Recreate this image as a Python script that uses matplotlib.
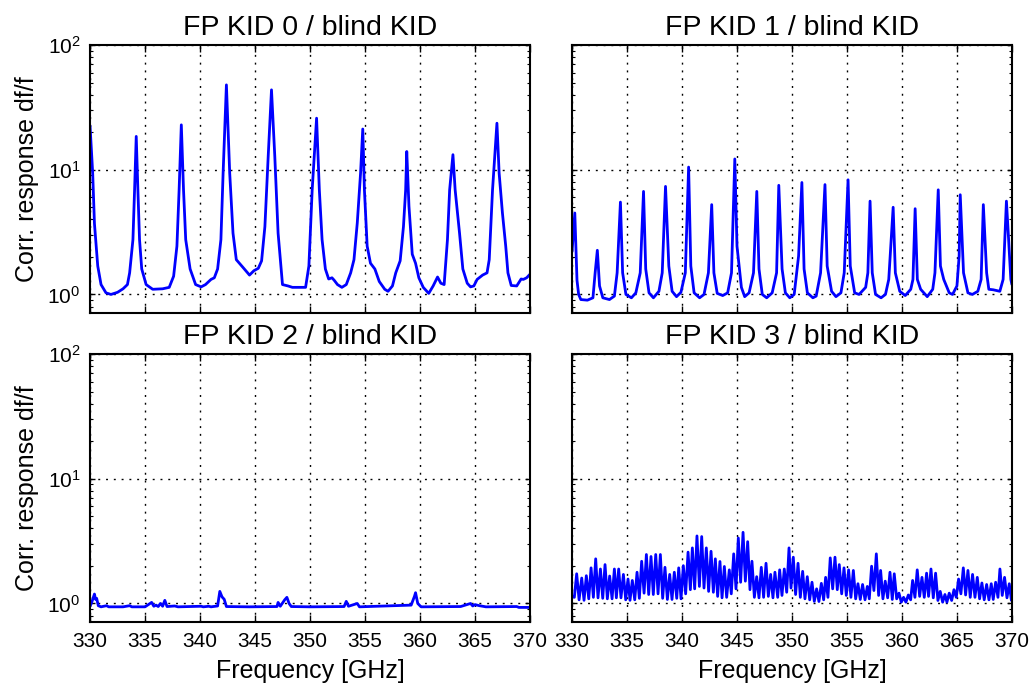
import matplotlib
matplotlib.use("Agg")
import matplotlib.pyplot as plt

plt.rcParams["font.family"] = ["Liberation Sans", "DejaVu Sans"]

# ---------------------------------------------------------------------------
# Correlated response of each focal-plane KID divided by the blind KID
# ---------------------------------------------------------------------------
titles = ["FP KID 0 / blind KID", "FP KID 1 / blind KID",
          "FP KID 2 / blind KID", "FP KID 3 / blind KID"]

kid0_freq = [330.0, 330.24, 330.4, 330.7, 331.0, 331.45, 331.9, 332.5, 333.0, 333.4,
             333.6, 333.9, 334.05, 334.2, 334.35, 334.5, 334.7, 335.1, 335.7, 336.6,
             337.2, 337.6, 337.9, 338.1, 338.3, 338.5, 338.7, 339.1, 339.6, 340.1,
             340.5, 341.0, 341.3, 341.6, 341.9, 342.1, 342.4, 342.7, 343.0, 343.3,
             343.9, 344.5, 344.9, 345.3, 345.6, 345.9, 346.2, 346.5, 346.8, 347.1,
             347.5, 348.0, 348.4, 349.0, 349.6, 349.9, 350.2, 350.6, 350.85, 351.1,
             351.4, 351.7, 352.0, 352.2, 352.5, 352.9, 353.3, 353.7, 354.0, 354.3,
             354.6, 354.8, 354.95, 355.2, 355.5, 355.9, 356.3, 356.8, 357.1, 357.5,
             357.8, 358.2, 358.5, 358.7, 358.8, 359.0, 359.3, 359.6, 359.9, 360.3,
             360.8, 361.2, 361.6, 361.9, 362.2, 362.5, 362.7, 363.0, 363.2, 363.6,
             363.9, 364.3, 364.6, 364.9, 365.2, 365.7, 366.1, 366.3, 366.6, 367.0,
             367.2, 367.5, 367.8, 368.0, 368.3, 368.8, 369.2, 369.4, 369.7, 370.0]
kid0_resp = [22.5, 9.4, 3.7, 1.69, 1.2, 1.03, 1.0, 1.04, 1.11, 1.2,
             1.49, 2.75, 6.9, 18.5, 6.9, 2.75, 1.6, 1.2, 1.10, 1.11,
             1.14, 1.4, 2.44, 6.9, 22.9, 6.9, 2.75, 1.6, 1.2, 1.15,
             1.2, 1.32, 1.36, 1.6, 2.75, 9.4, 47.9, 9.4, 3.1, 1.9,
             1.65, 1.43, 1.55, 1.62, 1.86, 3.5, 12.8, 43.7, 12.8, 3.1,
             1.2, 1.17, 1.14, 1.14, 1.14, 1.69, 6.9, 25.9, 6.9, 2.75,
             1.6, 1.33, 1.36, 1.3, 1.2, 1.14, 1.2, 1.49, 1.9, 3.74,
             9.4, 21.2, 6.9, 2.44, 1.78, 1.6, 1.27, 1.10, 1.06, 1.17,
             1.49, 1.86, 3.5, 6.9, 14.0, 5.1, 2.1, 1.78, 1.36, 1.14,
             1.02, 1.17, 1.38, 1.23, 1.2, 2.75, 6.9, 13.2, 6.9, 3.1,
             1.6, 1.23, 1.15, 1.17, 1.32, 1.43, 1.49, 1.9, 6.9, 23.6,
             9.4, 4.5, 2.44, 1.49, 1.18, 1.17, 1.33, 1.32, 1.36, 1.45]

kid1_freq = [330.0, 330.25, 330.45, 330.6, 330.8, 331.4, 331.9, 332.1, 332.3, 332.5,
             332.8, 333.4, 333.85, 334.1, 334.4, 334.6, 334.9, 335.4, 335.8, 336.2,
             336.5, 336.7, 337.0, 337.4, 337.9, 338.2, 338.5, 338.8, 339.1, 339.5,
             339.9, 340.3, 340.6, 340.8, 341.1, 341.6, 342.0, 342.4, 342.7, 342.9,
             343.2, 343.7, 344.15, 344.5, 344.8, 345.0, 345.4, 345.7, 346.1, 346.5,
             346.8, 347.0, 347.3, 347.7, 348.2, 348.6, 348.8, 349.1, 349.4, 349.8,
             350.2, 350.6, 350.9, 351.1, 351.4, 351.9, 352.2, 352.6, 353.0, 353.2,
             353.6, 354.0, 354.45, 354.75, 355.1, 355.3, 355.7, 356.1, 356.7, 356.9,
             357.1, 357.3, 357.6, 358.1, 358.5, 358.8, 359.2, 359.4, 359.8, 360.3,
             360.8, 361.0, 361.2, 361.4, 361.7, 362.3, 362.8, 363.0, 363.3, 363.5,
             363.8, 364.3, 364.6, 365.0, 365.2, 365.3, 365.6, 366.0, 366.4, 366.9,
             367.2, 367.4, 367.7, 367.9, 368.3, 368.9, 369.2, 369.5, 369.7, 369.9,
             370.0]
kid1_resp = [2.2, 4.5, 1.3, 1.0, 0.91, 0.90, 0.94, 1.49, 2.26, 1.17,
             0.94, 0.91, 0.97, 1.49, 5.5, 1.49, 1.0, 0.94, 1.03, 1.49,
             6.7, 1.6, 1.03, 0.94, 1.06, 1.49, 7.35, 1.69, 1.06, 0.96,
             1.04, 1.49, 10.5, 1.69, 1.03, 0.94, 1.0, 1.49, 5.25, 1.49,
             1.02, 0.98, 1.03, 1.49, 12.2, 2.44, 1.14, 0.96, 1.03, 1.49,
             6.7, 1.6, 1.0, 0.94, 1.03, 1.49, 7.5, 1.6, 1.03, 0.94,
             1.0, 2.03, 7.9, 1.6, 1.03, 0.94, 0.97, 1.49, 7.6, 1.69,
             1.06, 0.96, 1.03, 1.49, 8.3, 1.69, 1.03, 1.0, 1.14, 1.49,
             5.6, 1.49, 1.0, 0.94, 1.0, 1.32, 5.0, 1.49, 1.06, 0.98,
             1.10, 1.32, 4.87, 1.32, 1.10, 0.96, 1.10, 1.49, 6.9, 1.69,
             1.32, 1.03, 1.0, 1.17, 2.03, 6.3, 1.49, 1.03, 1.0, 1.06,
             1.32, 5.25, 1.49, 1.10, 1.09, 1.06, 1.32, 5.6, 2.75, 1.32,
             1.2]

kid2_freq = [330.0, 330.2, 330.4, 330.5, 330.6, 330.75, 331.0, 331.5, 331.7, 333.0,
             333.6, 333.8, 335.0, 335.6, 335.8, 336.0, 336.2, 336.4, 336.6, 336.8,
             337.0, 337.7, 338.0, 340.1, 340.3, 340.8, 341.0, 341.6, 341.8, 342.0,
             342.2, 342.4, 344.5, 347.0, 347.1, 347.3, 347.7, 347.9, 348.1, 348.3,
             350.0, 353.1, 353.3, 353.5, 354.3, 354.5, 359.2, 359.5, 359.6, 359.8,
             360.1, 363.7, 364.6, 364.8, 365.0, 365.4, 366.0, 368.8, 369.0, 370.0]
kid2_resp = [0.95, 1.05, 1.19, 1.08, 1.1, 0.96, 0.94, 0.96, 0.94, 0.94,
             0.96, 0.94, 0.94, 1.02, 0.95, 0.97, 0.945, 1.0, 0.95, 1.06,
             0.945, 0.955, 0.94, 0.95, 0.94, 0.95, 0.94, 0.955, 1.25, 1.13,
             1.08, 0.945, 0.94, 0.945, 1.02, 0.95, 1.07, 1.12, 1.0, 0.945,
             0.94, 0.945, 1.04, 0.95, 1.0, 0.94, 0.97, 1.14, 1.22, 1.0,
             0.94, 0.945, 1.0, 0.955, 0.98, 0.96, 0.94, 0.945, 0.93, 0.93]

kid3_freq = [330.0, 330.21, 330.42, 330.64, 330.88, 331.09, 331.30, 331.52, 331.73, 331.94,
             332.15, 332.36, 332.58, 332.79, 333.00, 333.21, 333.42, 333.64, 333.85, 334.03,
             334.24, 334.45, 334.67, 334.88, 335.09, 335.27, 335.48, 335.70, 335.91, 336.12,
             336.33, 336.55, 336.76, 336.97, 337.18, 337.39, 337.61, 337.82, 338.03, 338.24,
             338.45, 338.67, 338.88, 339.09, 339.30, 339.52, 339.70, 339.91, 340.12, 340.33,
             340.55, 340.76, 340.94, 341.15, 341.36, 341.58, 341.79, 342.00, 342.21, 342.42,
             342.64, 342.85, 343.03, 343.24, 343.45, 343.64, 343.85, 344.06, 344.30, 344.48,
             344.70, 344.91, 345.12, 345.33, 345.55, 345.76, 345.97, 346.18, 346.36, 346.58,
             346.79, 347.00, 347.21, 347.42, 347.64, 347.85, 348.06, 348.27, 348.45, 348.70,
             348.88, 349.09, 349.30, 349.52, 349.73, 349.91, 350.12, 350.33, 350.55, 350.76,
             350.97, 351.18, 351.39, 351.61, 351.82, 352.03, 352.24, 352.45, 352.67, 352.88,
             353.06, 353.27, 353.48, 353.70, 353.91, 354.12, 354.30, 354.52, 354.73, 354.94,
             355.15, 355.36, 355.58, 355.79, 356.00, 356.21, 356.42, 356.64, 356.85, 357.03,
             357.24, 357.45, 357.67, 357.88, 358.06, 358.27, 358.48, 358.70, 358.91, 359.12,
             359.30, 359.52, 359.73, 359.94, 360.15, 360.36, 360.58, 360.79, 360.97, 361.18,
             361.39, 361.61, 361.82, 362.03, 362.24, 362.42, 362.64, 362.85, 363.06, 363.27,
             363.48, 363.70, 363.91, 364.09, 364.30, 364.52, 364.73, 364.94, 365.15, 365.36,
             365.58, 365.79, 366.00, 366.21, 366.42, 366.64, 366.85, 367.06, 367.27, 367.48,
             367.70, 367.91, 368.12, 368.30, 368.52, 368.73, 368.91, 369.12, 369.33, 369.55,
             369.76, 369.95, 370.0]
kid3_resp = [1.15, 1.12, 1.73, 1.07, 1.60, 1.06, 1.67, 1.09, 1.93, 1.12,
             2.28, 1.11, 1.89, 1.10, 2.05, 1.09, 1.66, 1.09, 1.89, 1.11,
             1.89, 1.11, 1.71, 1.07, 1.57, 1.06, 1.53, 1.07, 1.78, 1.10,
             2.18, 1.21, 2.47, 1.18, 2.38, 1.18, 2.47, 1.195, 2.47, 1.10,
             1.95, 1.077, 1.71, 1.077, 1.78, 1.10, 1.93, 1.09, 2.01, 1.195,
             2.58, 1.29, 2.79, 1.31, 3.48, 1.37, 3.44, 1.33, 2.79, 1.25,
             2.62, 1.23, 2.28, 1.14, 2.17, 1.11, 1.98, 1.12, 1.86, 1.195,
             2.50, 1.31, 3.35, 1.48, 3.72, 1.51, 3.13, 1.29, 2.18, 1.12,
             1.64, 1.11, 1.95, 1.12, 2.10, 1.14, 1.71, 1.11, 1.78, 1.12,
             1.86, 1.16, 1.89, 1.23, 2.79, 1.33, 2.35, 1.18, 2.10, 1.12,
             1.81, 1.09, 1.64, 1.07, 1.48, 1.04, 1.31, 1.037, 1.45, 1.07,
             1.62, 1.12, 2.32, 1.31, 2.35, 1.29, 2.05, 1.195, 1.93, 1.16,
             1.86, 1.12, 1.84, 1.09, 1.44, 1.077, 1.42, 1.07, 1.37, 1.09,
             1.99, 1.27, 2.50, 1.16, 1.84, 1.09, 1.51, 1.11, 1.78, 1.077,
             1.73, 1.09, 1.21, 1.024, 1.12, 1.024, 1.17, 1.07, 1.53, 1.12,
             1.86, 1.14, 1.62, 1.12, 1.75, 1.14, 1.89, 1.11, 1.75, 1.057,
             1.25, 1.024, 1.18, 1.024, 1.21, 1.057, 1.29, 1.12, 1.57, 1.195,
             1.93, 1.17, 1.84, 1.12, 1.71, 1.12, 1.62, 1.09, 1.46, 1.07,
             1.42, 1.07, 1.44, 1.077, 1.48, 1.12, 1.89, 1.16, 1.62, 1.11,
             1.44, 1.06, 1.1]

series = [(kid0_freq, kid0_resp), (kid1_freq, kid1_resp),
          (kid2_freq, kid2_resp), (kid3_freq, kid3_resp)]

x_ticks = [330, 335, 340, 345, 350, 355, 360, 365, 370]

fig = plt.figure(figsize=(10.35, 6.84), dpi=100)
fig.patch.set_facecolor("white")

panel_w, panel_h = 0.4250, 0.3918
lefts = [0.0870, 0.5527]
bottoms = [0.5424, 0.0906]

for idx, (freq, resp) in enumerate(series):
    row, col = divmod(idx, 2)
    ax = fig.add_axes([lefts[col], bottoms[row], panel_w, panel_h])
    ax.plot(freq, resp, color="#0000ff", lw=2.0,
            solid_joinstyle="round", solid_capstyle="round")
    ax.set_yscale("log")
    ax.set_xlim(330, 370)
    ax.set_ylim(0.71, 100)
    ax.set_xticks(x_ticks)
    ax.grid(True, which="major", color="k", lw=1.0, linestyle=(0, (1.4, 4.2)))
    ax.tick_params(which="both", direction="in", top=True, right=True,
                   labelsize=15)
    ax.tick_params(axis="x", which="major", length=5, width=1, pad=7)
    ax.tick_params(axis="y", which="major", length=3.5, width=1, pad=7)
    ax.tick_params(axis="y", which="minor", length=2, width=0.8)
    for sp in ax.spines.values():
        sp.set_linewidth(1.5)
    ax.set_title(titles[idx], fontsize=20.5, pad=7)
    if row == 0:
        ax.tick_params(axis="x", labelbottom=False)
    else:
        ax.set_xlabel("Frequency [GHz]", fontsize=18, labelpad=6)
    if col == 1:
        ax.tick_params(axis="y", labelleft=False)
    else:
        ax.set_ylabel("Corr. response df/f", fontsize=18, labelpad=6)

fig.savefig("out.png", dpi=100)
